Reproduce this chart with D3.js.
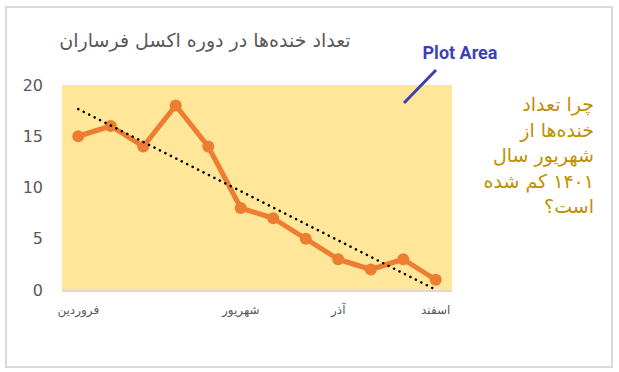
<!DOCTYPE html>
<html><head><meta charset="utf-8">
<script src="https://cdn.jsdelivr.net/npm/d3@7"></script>
<style>body{margin:0;background:#fff;} svg{display:block;}</style>
</head><body>
<svg id="c" width="619" height="372"></svg>
<script>
const months = ["فروردین","اردیبهشت","خرداد","تیر","مرداد","شهریور","مهر","آبان","آذر","دی","بهمن","اسفند"];
const laughs = [15,16,14,18,14,8,7,5,3,2,3,1];
const shownLabels = ["فروردین","شهریور","آذر","اسفند"];
const yTicks = [0,5,10,15,20];
const title = "تعداد خنده‌ها در دوره اکسل فرساران";
const noteLines = ["چرا تعداد","خنده‌ها از","شهریور سال","۱۴۰۱ کم شده","است؟"];
const annotation = "Plot Area";

const svg = d3.select("#c");
const font = "'DejaVu Sans', 'Noto Sans', sans-serif";
svg.append("rect").attr("x",6).attr("y",7).attr("width",606).attr("height",360)
  .attr("fill","#fff").attr("stroke","#d9d9d9").attr("stroke-width",2);

const L=62,R=452,T=85,B=290;
const x = d3.scaleBand().domain(months).range([L,R]);
const y = d3.scaleLinear().domain([0,20]).range([B,T]);
const cx = d => x(d)+x.bandwidth()/2;

svg.append("rect").attr("x",L).attr("y",T).attr("width",R-L).attr("height",B-T).attr("fill","#FFE699");
svg.append("line").attr("x1",L).attr("x2",R).attr("y1",B+1).attr("y2",B+1).attr("stroke","#d9d9d9").attr("stroke-width",2);

// y axis labels
const yAxis = d3.axisLeft(y).tickValues(yTicks).tickSize(0).tickPadding(0);
const ga = svg.append("g").attr("transform",`translate(${L-19},0)`).call(yAxis);
ga.select(".domain").remove();
ga.selectAll("text").attr("fill","#595959").style("font-size","16px").style("font-family",font);

// x axis labels
const xAxis = d3.axisBottom(x).tickValues(shownLabels).tickSize(0).tickPadding(0);
const gx = svg.append("g").attr("transform",`translate(0,${B+15})`).call(xAxis);
gx.select(".domain").remove();
gx.selectAll("text").attr("fill","#595959").style("font-size","12px").style("font-family",font);

// series
const line = d3.line().x((d,i)=>cx(months[i])).y(d=>y(d));
svg.append("path").datum(laughs).attr("d",line).attr("fill","none")
  .attr("stroke","#ED7D31").attr("stroke-width",5).attr("stroke-linejoin","round");
svg.selectAll("circle.pt").data(laughs).join("circle").attr("class","pt")
  .attr("cx",(d,i)=>cx(months[i])).attr("cy",d=>y(d)).attr("r",6).attr("fill","#ED7D31");

// linear trendline (least squares)
const n = laughs.length;
const xs = laughs.map((d,i)=>i+1);
const mx = d3.mean(xs), my = d3.mean(laughs);
const slope = d3.sum(xs.map((v,i)=>(v-mx)*(laughs[i]-my)))/d3.sum(xs.map(v=>(v-mx)*(v-mx)));
const icpt = my - slope*mx;
svg.append("line")
  .attr("x1",cx(months[0])).attr("y1",y(icpt+slope*1))
  .attr("x2",cx(months[n-1])).attr("y2",y(icpt+slope*n))
  .attr("stroke","#000").attr("stroke-width",2.5).attr("stroke-linecap","round")
  .attr("stroke-dasharray","0.1 6");

// title
svg.append("text").attr("x",205).attr("y",47).attr("text-anchor","middle")
  .attr("fill","#595959").style("font-size","19px").style("font-family",font).text(title);

// annotation
svg.append("text").attr("x",460).attr("y",59).attr("text-anchor","middle")
  .attr("fill","#3F3FB5").style("font-size","18px").style("font-weight","bold")
  .style("font-family","Roboto, sans-serif").text(annotation);
svg.append("line").attr("x1",404).attr("y1",103).attr("x2",436).attr("y2",70)
  .attr("stroke","#3F3FB5").attr("stroke-width",3);

// note
svg.append("g").selectAll("text").data(noteLines).join("text")
  .attr("x",594).attr("y",(d,i)=>111+i*25.5).attr("text-anchor","start").attr("direction","rtl")
  .attr("fill","#BF9000").style("font-size","19px").style("font-family",font).text(d=>d);
</script>
</body></html>
